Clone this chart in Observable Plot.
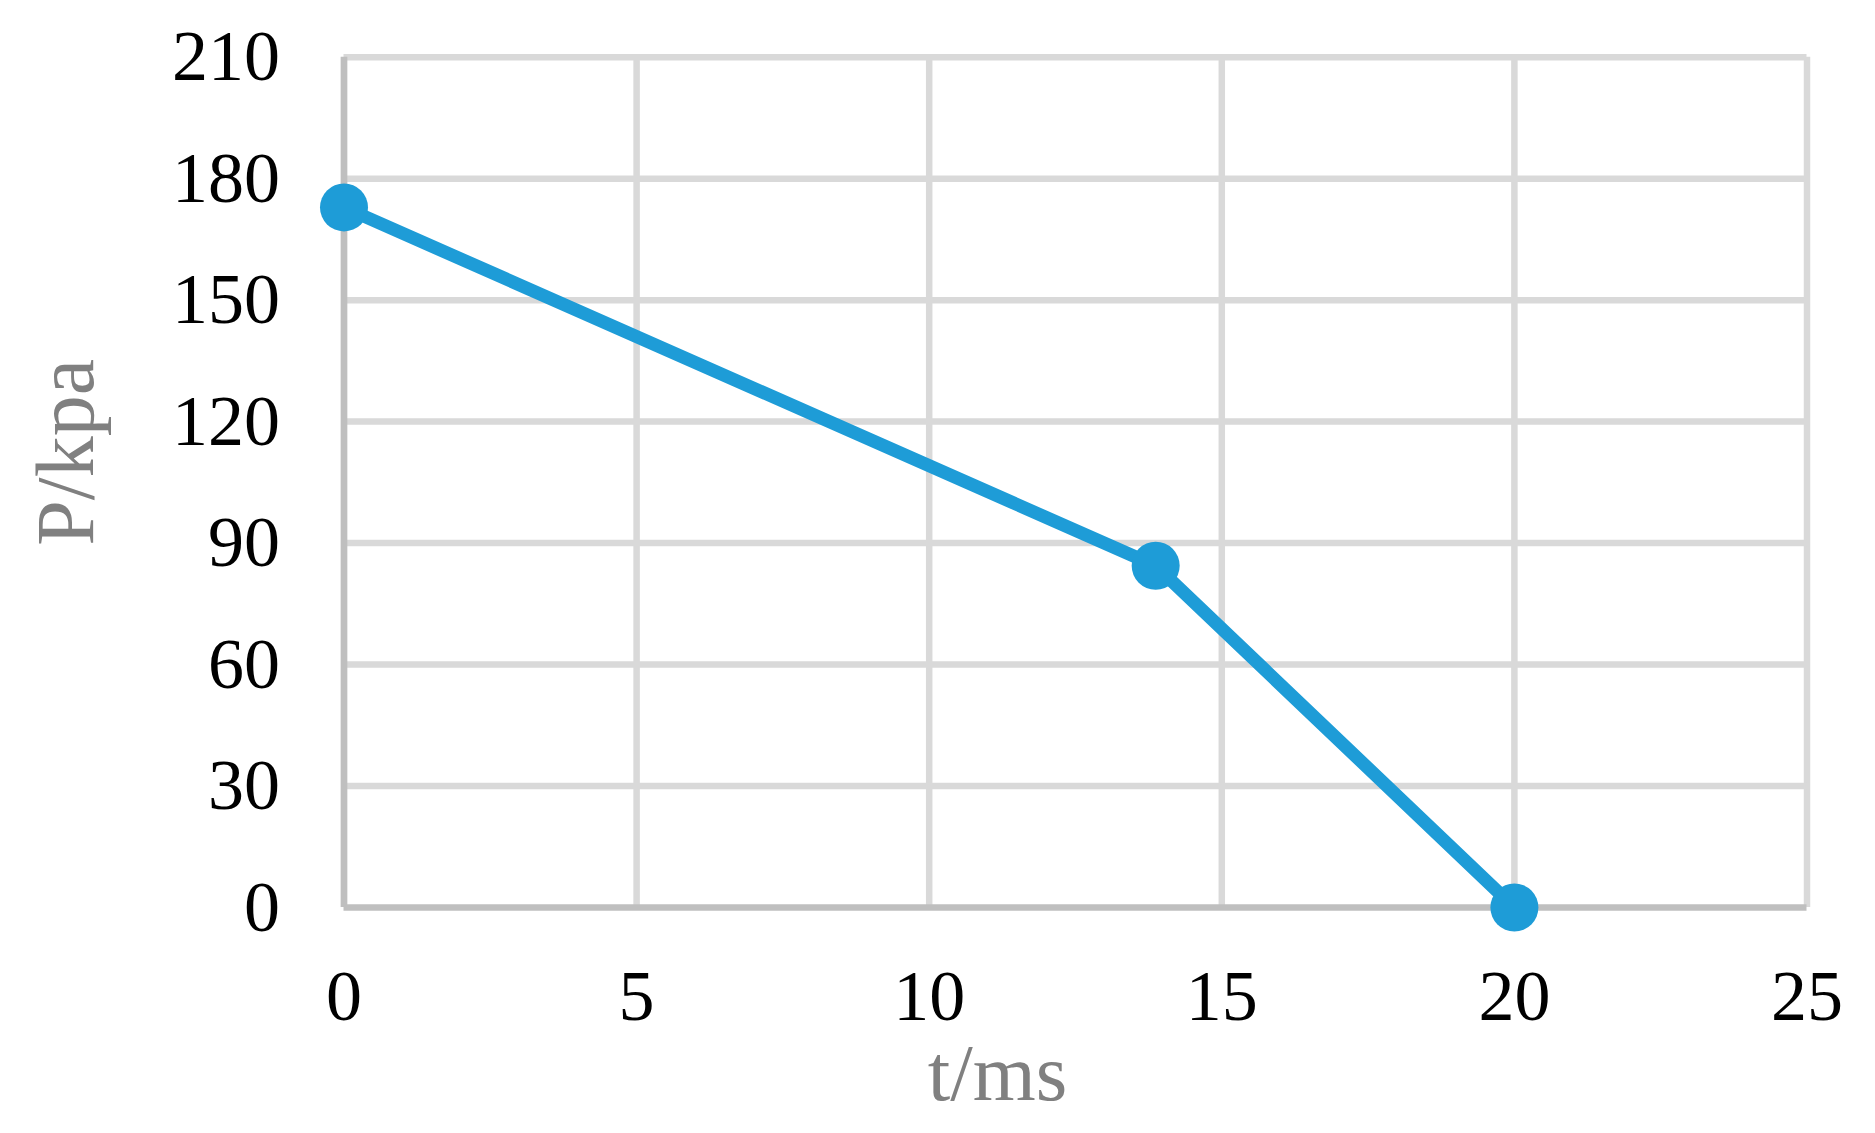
<!DOCTYPE html>
<html>
<head>
<meta charset="utf-8">
<script src="https://cdn.jsdelivr.net/npm/d3@7"></script>
<script src="https://cdn.jsdelivr.net/npm/@observablehq/plot@0.6"></script>
<style>
  html, body { margin: 0; padding: 0; background: #fff; }
  svg { overflow: visible; }
</style>
</head>
<body>
<div id="chart"></div>
<script>
const timeMs = [0, 13.87, 20];
const pressureKpa = [172.9, 84.4, 0];
const xTicks = [0, 5, 10, 15, 20, 25];
const yTicks = [0, 30, 60, 90, 120, 150, 180, 210];
const xTitle = "t/ms";
const yTitle = "P/kpa";

const data = timeMs.map((t, i) => ({t, p: pressureKpa[i]}));
const lineColor = "#1E9CD7";

const chart = Plot.plot({
  width: 1875,
  height: 1133,
  marginLeft: 343.5,
  marginRight: 68.5,
  marginTop: 56.7,
  marginBottom: 226,
  style: {fontFamily: "'Liberation Serif', 'Times New Roman', serif", background: "#fff", overflow: "visible"},
  x: {domain: [0, 25], ticks: xTicks},
  y: {domain: [0, 210], ticks: yTicks},
  marks: [
    Plot.ruleX(xTicks.filter(d => d !== 0), {stroke: "#D9D9D9", strokeWidth: 6.5}),
    Plot.ruleY(yTicks.filter(d => d !== 0), {stroke: "#D9D9D9", strokeWidth: 6.5}),
    Plot.ruleX([0], {stroke: "#BFBFBF", strokeWidth: 6.7}),
    Plot.ruleY([0], {stroke: "#BFBFBF", strokeWidth: 6.7}),
    Plot.axisX({ticks: xTicks, tickSize: 0, tickPadding: 61, fontSize: 72, fill: "#000", label: null}),
    Plot.axisY({ticks: yTicks, tickSize: 0, tickPadding: 64, fontSize: 72, fill: "#000", label: null}),
    Plot.line(data, {x: "t", y: "p", stroke: lineColor, strokeWidth: 13, strokeLinejoin: "round"}),
    Plot.dot(data, {x: "t", y: "p", r: 24, fill: lineColor, stroke: "none"}),
    Plot.text([xTitle], {text: d => d, frameAnchor: "bottom", lineAnchor: "bottom", textAnchor: "middle", dy: 192, dx: -78, fontSize: 81, fill: "#808080"}),
    Plot.text([yTitle], {text: d => d, frameAnchor: "left", lineAnchor: "bottom", textAnchor: "middle", rotate: -90, dx: -251, dy: -30, fontSize: 82, fill: "#808080"})
  ]
});
document.getElementById("chart").appendChild(chart);
</script>
</body>
</html>
